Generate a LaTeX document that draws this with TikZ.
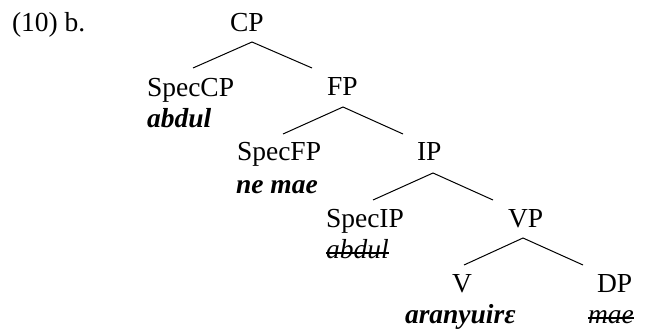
\documentclass[tikz,border=0pt]{standalone}
\usepackage{fontspec}
\setmainfont{Liberation Serif}
\begin{document}
\begin{tikzpicture}[x=0.5pt,y=-0.5pt,
  lbl/.style={anchor=base west,inner sep=0pt,outer sep=0pt,font=\fontsize{13.75pt}{16pt}\selectfont},
  word/.style={lbl,font=\fontsize{13.75pt}{16pt}\selectfont\bfseries\itshape},
  gone/.style={lbl,font=\fontsize{13.75pt}{16pt}\selectfont\itshape},
  strike/.style={line width=0.7pt},
  branch/.style={line width=0.5pt}]
\useasboundingbox (0,0) rectangle (646,331);
% labels
\node[lbl] (ex) at (12,32) {(10) b.};
\node[lbl] (CP) at (230,32) {CP};
\node[lbl] (SpecCP) at (147,97) {SpecCP};
\node[word] (abdul1) at (147,128) {abdul};
\node[lbl] (FP) at (327,96) {FP};
\node[lbl] (SpecFP) at (237,161) {SpecFP};
\node[word] (nemae) at (236,193) {ne mae};
\node[lbl] (IP) at (417,161) {IP};
\node[lbl] (SpecIP) at (326,227) {SpecIP};
\node[gone] (abdul2) at (326,258) {abdul};
\node[lbl] (VP) at (508,227) {VP};
\node[lbl] (V) at (452,292) {V};
\node[word] (verb) at (405,323) {aranyuirε};
\node[lbl] (DP) at (597,292) {DP};
\node[gone] (mae) at (588,323) {mae};
% strike-through
\draw[strike] ([yshift=2.5pt]abdul2.base west) -- ([yshift=2.5pt]abdul2.base east);
\draw[strike] ([yshift=2.5pt]mae.base west) -- ([yshift=2.5pt]mae.base east);
% branch points
\coordinate (cpA) at (252,42); \coordinate (cpL) at (193,68); \coordinate (cpR) at (312,68);
\coordinate (fpA) at (343,107); \coordinate (fpL) at (283,134); \coordinate (fpR) at (403,134);
\coordinate (ipA) at (433,173); \coordinate (ipL) at (373,200); \coordinate (ipR) at (493,200);
\coordinate (vpA) at (523,238); \coordinate (vpL) at (464,265); \coordinate (vpR) at (583,265);
\draw[branch] (cpL) -- (cpA) -- (cpR);
\draw[branch] (fpL) -- (fpA) -- (fpR);
\draw[branch] (ipL) -- (ipA) -- (ipR);
\draw[branch] (vpL) -- (vpA) -- (vpR);
\end{tikzpicture}
\end{document}
